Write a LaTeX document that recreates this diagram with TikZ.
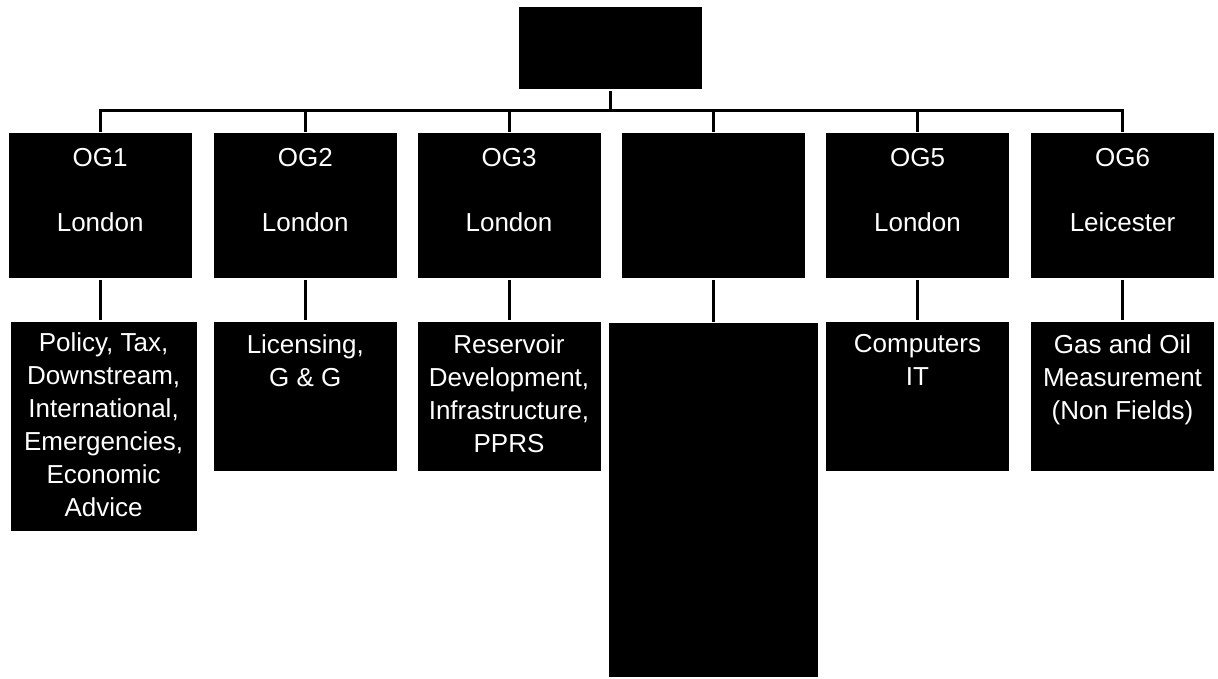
\documentclass[tikz,border=0pt]{standalone}
\usepackage{fontspec}
\setmainfont{Liberation Sans}
\usetikzlibrary{positioning}

\begin{document}
\begin{tikzpicture}[x=1pt, y=-1pt, line width=3pt,
		caja/.style={fill=black, inner sep=0pt, minimum width=183pt},
		texto/.style={text=white, align=center, inner sep=0pt, font=\fontsize{26}{33}\selectfont}]
		% Marco
		\useasboundingbox (0,0) rectangle (1218,678);
		
		% Caja superior
		\node[caja, minimum height=82.6pt] (top) at (610.5,48) {};
		\coordinate (bus) at (610.5,110.7);
		\draw (top.south) -- (bus);
		
		% Grupos
		\foreach \n/\x in {1/100.2, 2/305.3, 3/509, 4/713, 5/917.5, 6/1122.5}{
			\node[caja, minimum height=145pt] (og\n) at (\x,205.8) {};
			\draw (bus) -| (og\n.north);}
		\node[texto, below=15pt of og1.north] (og1t) {OG1\\[32pt]London};
		\node[texto, below=15pt of og2.north] (og2t) {OG2\\[32pt]London};
		\node[texto, below=15pt of og3.north] (og3t) {OG3\\[32pt]London};
		\node[texto, below=15pt of og5.north] (og5t) {OG5\\[32pt]London};
		\node[texto, below=15pt of og6.north] (og6t) {OG6\\[32pt]Leicester};
		
		% Areas
		\node[caja, minimum width=186pt, minimum height=209pt] (og1s) at (103.6,426.2) {};
		\node[caja, minimum height=149.3pt] (og2s) at (305.3,396.4) {};
		\node[caja, minimum height=149.3pt] (og3s) at (509,396.4) {};
		\node[caja, minimum width=209.6pt, minimum height=354pt] (og4s) at (713.5,500) {};
		\node[caja, minimum height=149.3pt] (og5s) at (917.5,396.4) {};
		\node[caja, minimum height=149.3pt] (og6s) at (1122.5,396.4) {};
		\foreach \n in {1,...,6}{
			\draw (og\n.south) -- (og\n.south |- og\n s.north);}
		
		\node[texto, below=11pt of og1s.north] (og1st) {Policy, Tax,\\Downstream,\\International,\\Emergencies,\\Economic\\Advice};
		\node[texto, below=13pt of og2s.north] (og2st) {Licensing,\\G \& G};
		\node[texto, below=13pt of og3s.north] (og3st) {Reservoir\\Development,\\Infrastructure,\\PPRS};
		\node[texto, below=13pt of og5s.north] (og5st) {Computers\\IT};
		\node[texto, below=13pt of og6s.north] (og6st) {Gas and Oil\\Measurement\\(Non Fields)};
	\end{tikzpicture}
\end{document}
